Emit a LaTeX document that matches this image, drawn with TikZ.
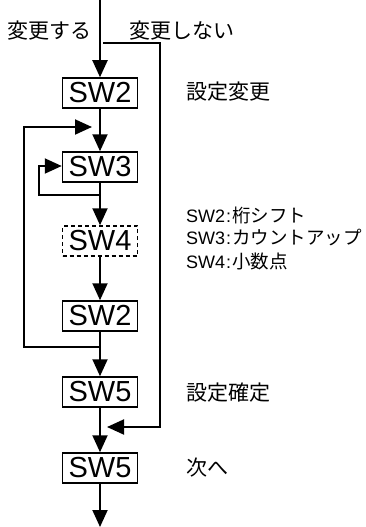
\documentclass[tikz,border=0pt]{standalone}
\usepackage{fontspec}
\setmainfont{Noto Sans CJK JP}
\newfontfamily\latfont{Liberation Sans}
\usetikzlibrary{arrows.meta}

\tikzset{
  swbox/.style={draw, line width=1.5pt, minimum width=75pt, minimum height=30pt,
    inner sep=0pt, font=\latfont\fontsize{29}{29}\selectfont},
  flow/.style={line width=1.9pt, -{Triangle[length=17pt,width=15pt]}},
  lbl/.style={anchor=west, inner sep=0pt, font=\fontsize{21}{21}\selectfont},
  keylbl/.style={lbl, font=\fontsize{18.5}{18.5}\selectfont}
}
\newcommand{\swkey}[1]{{\latfont\fontsize{18}{18}\selectfont #1\kern1pt:\kern1pt}}

\begin{document}
\begin{tikzpicture}[x=1pt, y=1pt]
    \useasboundingbox (0,0) rectangle (365,-527);

    % Switch boxes down the middle
    \node[swbox] (sw2a) at (100,-93) {SW2};
    \node[swbox] (sw3) at (100,-167) {SW3};
    \node[swbox, dash pattern=on 4pt off 3pt] (sw4) at (100,-241) {SW4};
    \node[swbox] (sw2b) at (100,-316) {SW2};
    \node[swbox] (sw5a) at (100,-392) {SW5};
    \node[swbox] (sw5b) at (100,-468) {SW5};

    % Free ends and corners
    \coordinate (top) at (100,0);
    \coordinate (bottom) at (100,-527);
    \coordinate (skipstart) at (103,-43);
    \coordinate (skipend) at (107,-427);
    \coordinate (outerstart) at (100,-347);
    \coordinate (outerend) at (92,-127);
    \coordinate (innerstart) at (100,-195);

    % Branch labels at the top
    \node[lbl, anchor=center] (change) at (49,-31) {変更する};
    \node[lbl] (nochange) at (129,-31) {変更しない};

    % Main flow
    \draw[flow] (top) -- (sw2a.north);
    \draw[flow] (sw2a.south) -- (sw3.north);
    \draw[flow] (sw3.south) -- (sw4.north);
    \draw[flow] (sw4.south) -- (sw2b.north);
    \draw[flow] (sw2b.south) -- (sw5a.north);
    \draw[flow] (sw5a.south) -- (sw5b.north);
    \draw[flow] (sw5b.south) -- (bottom);

    % Loops back to SW3
    \draw[flow] (outerstart) -- (24,-347) -- (24,-127) -- (outerend);
    \draw[flow] (innerstart) -- (39,-195) -- (39,-166) -- (sw3.west |- 0,-166);

    % Skip path when nothing changes
    \draw[flow] (skipstart) -- (160,-43) -- (160,-427) -- (skipend);

    % Notes on the right
    \node[lbl] (note1) at (186,-92) {設定変更};
    \node[keylbl] (key2) at (186,-215) {\swkey{SW2}桁シフト};
    \node[keylbl] (key3) at (186,-238) {\swkey{SW3}カウントアップ};
    \node[keylbl] (key4) at (186,-261) {\swkey{SW4}小数点};
    \node[lbl] (note2) at (186,-393) {設定確定};
    \node[lbl] (note3) at (186,-468) {次へ};
\end{tikzpicture}
\end{document}
